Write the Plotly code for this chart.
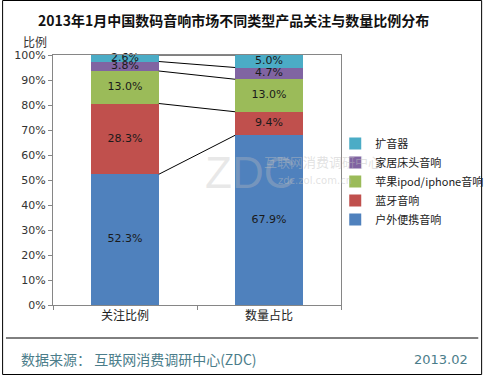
import plotly.graph_objects as go
import numpy as np

categories = ["关注比例", "数量占比"]
series_names = ["户外便携音响", "蓝牙音响", "苹果ipod/iphone音响", "家居床头音响", "扩音器"]
outdoor = [52.3, 67.9]
bluetooth = [28.3, 9.4]
apple = [13.0, 13.0]
home = [3.8, 4.7]
amplifier = [2.6, 5.0]
colors = ["#4F81BD", "#C0504D", "#9BBB59", "#8064A2", "#4BACC6"]
y_ticks = list(range(0, 101, 10))

series = [outdoor, bluetooth, apple, home, amplifier]
xpos = [0.5, 1.5]
bw = 0.47

CJK = "Noto Sans CJK SC, Liberation Sans, sans-serif"
NUM = "DejaVu Sans, sans-serif"

W, H = 500, 375
L, R, T, B = 53, 147, 55, 70
PW, PH = W - L - R, H - T - B

def px_x(px):
    return (px - L) / PW

def px_y(py):
    return (H - B - py) / PH

fig = go.Figure()
for name, vals, col in zip(series_names, series, colors):
    fig.add_trace(go.Bar(
        x=xpos, y=vals, name=name, width=bw,
        marker=dict(color=col, line=dict(width=0)),
        hoverinfo="skip",
    ))

arr = np.array(series)
cum = np.cumsum(arr, axis=0)
mids = cum - arr / 2

# connector lines between segment tops
for row in cum:
    fig.add_trace(go.Scatter(
        x=[xpos[0] + bw / 2, xpos[1] - bw / 2], y=list(row),
        mode="lines", line=dict(color="black", width=1),
        showlegend=False, hoverinfo="skip", cliponaxis=False,
    ))

# value labels
for vals, mid in zip(series, mids):
    fig.add_trace(go.Scatter(
        x=xpos, y=list(mid), mode="text",
        text=[f"{v:.1f}%" for v in vals], textposition="middle center",
        textfont=dict(family=NUM, size=11, color="#1a1a1a"),
        showlegend=False, hoverinfo="skip", cliponaxis=False,
    ))

fig.update_layout(
    width=W, height=H,
    margin=dict(l=L, r=R, t=T, b=B),
    paper_bgcolor="white", plot_bgcolor="white",
    barmode="stack", bargap=0,
    showlegend=True,
    legend=dict(x=px_x(347), y=px_y(129), xanchor="left", yanchor="top",
                traceorder="reversed",
                font=dict(family=CJK, size=11, color="#222"),
                itemwidth=30, tracegroupgap=0, bgcolor="rgba(0,0,0,0)"),
    xaxis=dict(range=[0, 2], tickvals=xpos, ticktext=categories,
               ticks="", showline=True, linecolor="#868686", linewidth=1,
               mirror=True, showgrid=False, zeroline=False,
               tickfont=dict(family=CJK, size=12, color="#222"),
               minor=dict(tick0=0, dtick=1, ticks="outside", ticklen=4,
                          tickcolor="#868686", showgrid=False)),
    yaxis=dict(range=[0, 100], tickvals=y_ticks,
               ticktext=[f"{v}%" for v in y_ticks],
               ticks="outside", ticklen=4, tickcolor="#868686",
               showline=True, linecolor="#868686", linewidth=1, mirror=True,
               showgrid=False, zeroline=False,
               tickfont=dict(family=NUM, size=11, color="#333")),
    font=dict(family=CJK),
)

annos = [
    dict(text="<b>2013年1月中国数码音响市场不同类型产品关注与数量比例分布</b>",
         x=241, y=20, font=dict(family=CJK, size=14, color="#111")),
    dict(text="比例", x=34, y=42, font=dict(family=CJK, size=12, color="#333")),
    dict(text="数据来源： 互联网消费调研中心(ZDC)", x=18, y=359, xanchor="left",
         font=dict(family=CJK, size=14, color="#4B7D8A")),
    dict(text="2013.02", x=487, y=359, xanchor="right",
         font=dict(family=NUM, size=13, color="#4B7D8A")),
    dict(text="ZDC", x=258, y=172, font=dict(family="Liberation Sans", size=44, color="rgba(190,190,190,0.35)")),
    dict(text="互联网消费调研中心", x=334, y=161, font=dict(family=CJK, size=13, color="rgba(190,190,190,0.45)")),
    dict(text="zdc.zol.com.cn", x=326, y=180, font=dict(family=NUM, size=10, color="rgba(190,190,190,0.45)")),
]
for a in annos:
    a.setdefault("xanchor", "center")
    fig.add_annotation(xref="paper", yref="paper", showarrow=False,
                       x=px_x(a["x"]), y=px_y(a["y"]), yanchor="middle",
                       xanchor=a["xanchor"], text=a["text"], font=a["font"])

# footer separator and outer border
fig.add_shape(type="line", xref="paper", yref="paper",
              x0=px_x(4), x1=px_x(496), y0=px_y(338), y1=px_y(338),
              line=dict(color="black", width=1))
fig.add_shape(type="rect", xref="paper", yref="paper",
              x0=px_x(0.5), x1=px_x(499.5), y0=px_y(374.5), y1=px_y(0.5),
              line=dict(color="black", width=1))

fig.write_html("out.html", config={"displayModeBar": False},
               post_script="document.body.style.margin='0';document.body.style.overflow='hidden';")
